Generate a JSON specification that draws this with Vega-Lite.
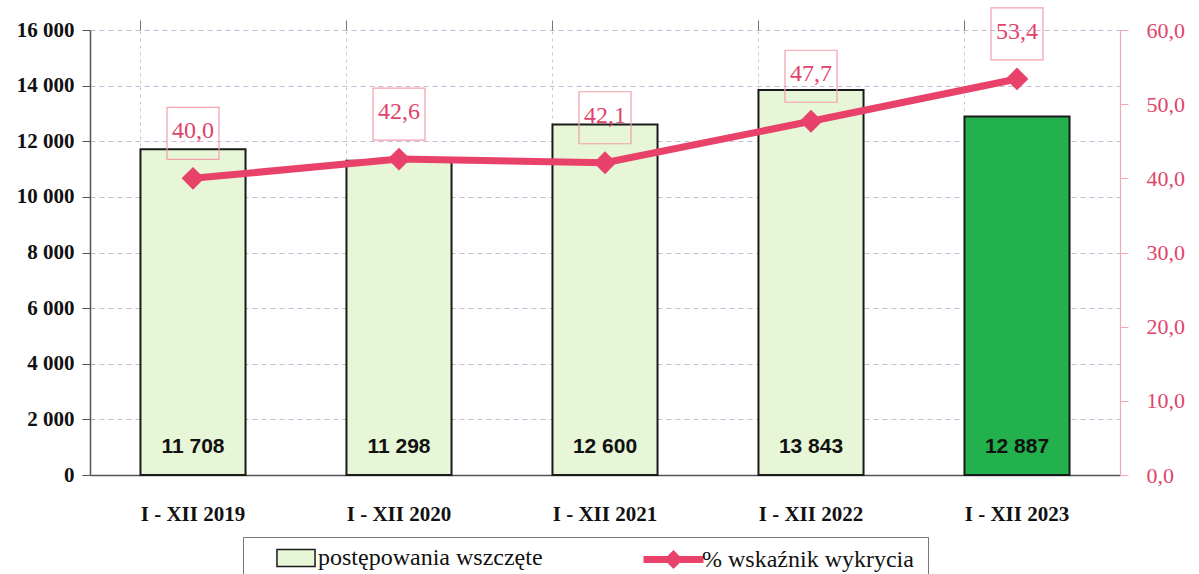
{
  "$schema": "https://vega.github.io/schema/vega-lite/v6.json",
  "width": 1030,
  "height": 445,
  "autosize": {"type": "none"},
  "padding": {"left": 90, "top": 30, "right": 79, "bottom": 99},
  "background": "white",
  "config": {
    "view": {"stroke": null},
    "font": "Liberation Serif",
    "locale": {"number": {"decimal": ",", "thousands": " ", "grouping": [3], "currency": ["", " zł"]}}
  },
  "data": {"values": [
    {"rok": "I - XII 2019", "wszczete": 11708, "wskaznik": 40.0},
    {"rok": "I - XII 2020", "wszczete": 11298, "wskaznik": 42.6},
    {"rok": "I - XII 2021", "wszczete": 12600, "wskaznik": 42.1},
    {"rok": "I - XII 2022", "wszczete": 13843, "wskaznik": 47.7},
    {"rok": "I - XII 2023", "wszczete": 12887, "wskaznik": 53.4}
  ]},
  "resolve": {"scale": {"y": "independent"}, "axis": {"x": "independent", "y": "independent"}},
  "layer": [
    {
      "mark": {"type": "bar", "stroke": "#1a1a1a", "strokeWidth": 2},
      "encoding": {
        "x": {"field": "rok", "type": "nominal", "sort": null,
          "scale": {"paddingInner": 0.49, "paddingOuter": 0.245},
          "axis": {"title": null, "labelAngle": 0, "ticks": false, "tickSize": 0, "labelPadding": 28, "grid": false,
            "domain": true, "domainColor": "#555", "domainWidth": 1.5,
            "labelFont": "Liberation Serif", "labelFontWeight": "bold", "labelFontSize": 21, "labelColor": "#111"}},
        "y": {"field": "wszczete", "type": "quantitative", "scale": {"domain": [0, 16000]},
          "axis": {"title": null, "orient": "left", "values": [0, 2000, 4000, 6000, 8000, 10000, 12000, 14000, 16000],
            "format": ",d", "grid": true, "gridColor": "#c9b9d6", "gridDash": [5, 4], "gridWidth": 1,
            "domain": true, "domainColor": "#555", "domainWidth": 1.5, "tickColor": "#555", "tickSize": 8,
            "labelPadding": 8, "labelFont": "Liberation Serif", "labelFontWeight": "bold", "labelFontSize": 21, "labelColor": "#111"}},
        "fill": {
          "condition": {"test": "datum.rok === 'I - XII 2023'", "value": "#22b14c"},
          "datum": "postępowania wszczęte", "type": "nominal",
          "scale": {"domain": ["postępowania wszczęte"], "range": ["#e6f6d6"]},
          "legend": {
            "orient": "none", "legendX": 153, "legendY": 507, "direction": "horizontal",
            "title": " ", "titleOrient": "right", "titleFontSize": 10, "titlePadding": 380,
            "strokeColor": "#777", "fillColor": "white", "padding": 5,
            "labelFont": "Liberation Serif", "labelFontSize": 24, "labelColor": "#111", "labelLimit": 400,
            "symbolType": "M-1.27,-0.57L1.27,-0.57L1.27,0.57L-1.27,0.57Z", "symbolSize": 900,
            "symbolStrokeColor": "#1a1a1a", "symbolStrokeWidth": 1.5, "symbolOpacity": 1,
            "symbolOffset": 32, "labelOffset": 6
          }
        }
      }
    },
    {
      "mark": {"type": "text", "font": "Liberation Sans", "fontWeight": "bold", "fontSize": 21, "color": "#111", "dy": -28, "baseline": "middle"},
      "encoding": {
        "x": {"field": "rok", "type": "nominal", "sort": null,
          "axis": {"title": null, "bandPosition": 0, "labels": false, "domain": false, "ticks": true, "tickSize": 10, "tickColor": "#777",
            "grid": true, "gridColor": "#c8c8c8", "gridDash": [3, 4], "gridWidth": 1}},
        "y": {"datum": 0, "type": "quantitative", "scale": {"domain": [0, 16000]}, "axis": null},
        "text": {"field": "wszczete", "type": "quantitative", "format": ",d"}
      }
    },
    {
      "mark": {"type": "point", "shape": "square", "size": 2704, "filled": false, "stroke": "#f2a0ac", "strokeWidth": 1.2, "opacity": 1, "yOffset": -45},
      "encoding": {
        "x": {"field": "rok", "type": "nominal", "sort": null, "axis": null},
        "y": {"field": "wskaznik", "type": "quantitative", "scale": {"domain": [0, 60]},
          "axis": {"title": null, "orient": "right", "values": [0, 10, 20, 30, 40, 50, 60], "format": ".1f", "grid": false,
            "domain": true, "domainColor": "#f0a8b4", "domainWidth": 1.2, "tickColor": "#f0a8b4", "tickSize": 8,
            "labelPadding": 18, "labelFont": "Liberation Serif", "labelFontSize": 22, "labelColor": "#e0446a"}}
      }
    },
    {
      "mark": {"type": "line", "strokeWidth": 7},
      "encoding": {
        "x": {"field": "rok", "type": "nominal", "sort": null, "axis": null},
        "y": {"field": "wskaznik", "type": "quantitative", "scale": {"domain": [0, 60]}, "axis": null},
        "stroke": {"datum": "% wskaźnik wykrycia", "type": "nominal",
          "scale": {"domain": ["% wskaźnik wykrycia"], "range": ["#e8416a"]},
          "legend": {
            "orient": "none", "legendX": 565, "legendY": 511, "direction": "horizontal",
            "title": null, "padding": 0,
            "labelFont": "Liberation Serif", "labelFontSize": 24, "labelColor": "#111", "labelLimit": 400,
            "symbolType": "M-2,0L2,0M0,-0.3L0.3,0L0,0.3L-0.3,0Z", "symbolSize": 900,
            "symbolStrokeWidth": 7, "symbolOpacity": 1, "labelOffset": 10
          }
        }
      }
    },
    {
      "mark": {"type": "point", "shape": "diamond", "filled": true, "size": 520, "opacity": 1, "color": "#e8416a"},
      "encoding": {
        "x": {"field": "rok", "type": "nominal", "sort": null, "axis": null},
        "y": {"field": "wskaznik", "type": "quantitative", "scale": {"domain": [0, 60]}, "axis": null}
      }
    },
    {
      "mark": {"type": "text", "font": "Liberation Serif", "fontSize": 24, "color": "#e0446a", "dy": -47, "baseline": "middle"},
      "encoding": {
        "x": {"field": "rok", "type": "nominal", "sort": null, "axis": null},
        "y": {"field": "wskaznik", "type": "quantitative", "scale": {"domain": [0, 60]}, "axis": null},
        "text": {"field": "wskaznik", "type": "quantitative", "format": ".1f"}
      }
    }
  ]
}
